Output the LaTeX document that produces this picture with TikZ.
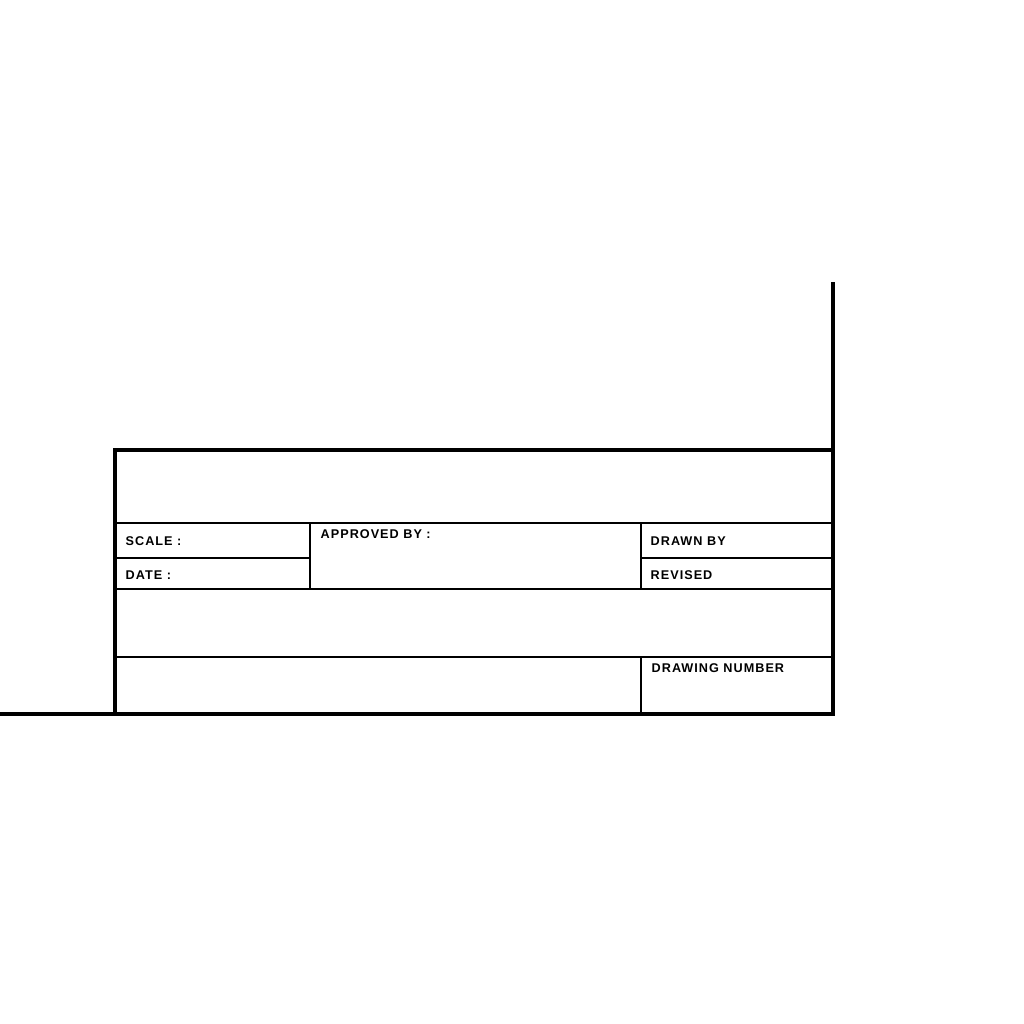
\documentclass[tikz,border=0pt]{standalone}
\usepackage{fontspec}
\setmainfont{Liberation Sans}
\newfontfamily\blockfont[LetterSpace=8]{Liberation Sans}
\begin{document}
\begin{tikzpicture}[x=0.01cm,y=-0.01cm,
    frame/.style={line width=0.95pt,line cap=rect},
    rule/.style={line width=0.6pt},
    lbl/.style={anchor=west,inner sep=0pt,font=\blockfont\fontsize{3.6}{4.5}\selectfont\bfseries}]
   \useasboundingbox (0,0) rectangle (1024,1024);
   % outer frame
   \draw[frame] (0,714) -- (833,714) -- (833,284);
   \draw[frame] (115,714) -- (115,450) -- (833,450);
   % rows
   \draw[rule] (115,523) -- (833,523);
   \draw[rule] (115,589) -- (833,589);
   \draw[rule] (115,657) -- (833,657);
   \draw[rule] (115,558) -- (310,558);
   \draw[rule] (641,558) -- (833,558);
   % columns
   \draw[rule] (310,523) -- (310,589);
   \draw[rule] (641,523) -- (641,589);
   \draw[rule] (641,657) -- (641,714);
   \foreach \x/\y/\t in
     {125/541/{SCALE :},
      125/575/{DATE :},
      320/534/{APPROVED BY :},
      650/541/{DRAWN BY},
      650/575/{REVISED},
      651/668/{DRAWING NUMBER}
     }
     \node[lbl] at (\x,\y) {\t};
\end{tikzpicture}
\end{document}
